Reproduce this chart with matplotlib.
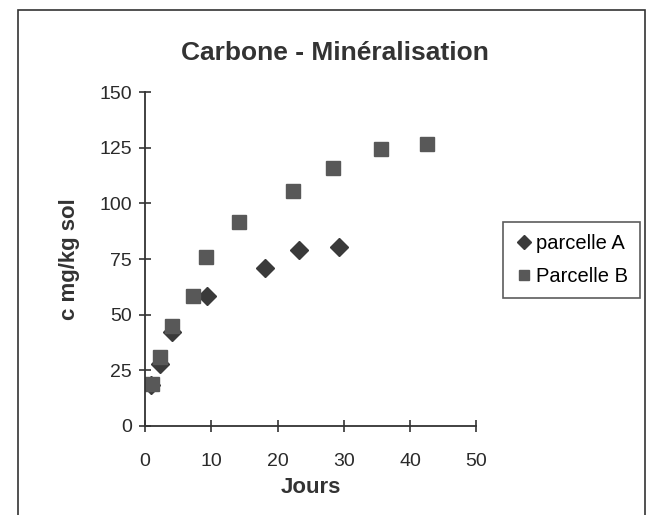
import matplotlib.pyplot as plt
from matplotlib.patches import Rectangle

plt.rcParams['font.family'] = ['Liberation Sans', 'DejaVu Sans']

# Parcelle A (diamonds)
jours_a = [0.9, 2.3, 4.0, 9.4, 18.1, 23.3, 29.3]
carbone_a = [18.5, 28, 42, 58.5, 71, 79, 80.5]

# Parcelle B (squares)
jours_b = [1.0, 2.3, 4.0, 7.3, 9.2, 14.2, 22.4, 28.4, 35.6, 42.5]
carbone_b = [19, 31, 45, 58.5, 76, 91.5, 105.5, 116, 124.5, 126.5]

fig = plt.figure(figsize=(6.48, 5.15), dpi=100)
ax = fig.add_axes([0.224, 0.173, 0.511, 0.648])

ax.plot(jours_a, carbone_a, linestyle='none', marker='D', markersize=9.5,
        color='#3a3a3a', label='parcelle A')
ax.plot(jours_b, carbone_b, linestyle='none', marker='s', markersize=9.5,
        color='#585858', label='Parcelle B')

ax.set_xlim(0, 50)
ax.set_ylim(0, 150)
ax.set_xticks(range(0, 51, 10))
ax.set_yticks(range(0, 151, 25))
for side in ['top', 'right']:
    ax.spines[side].set_visible(False)
for side in ['left', 'bottom']:
    ax.spines[side].set_linewidth(1.3)
    ax.spines[side].set_color('#333333')
ax.tick_params(direction='inout', length=9, width=1.2, labelsize=14,
               colors='#333333', labelcolor='#2a2a2a')
ax.tick_params(axis='x', pad=15)
ax.tick_params(axis='y', pad=5)

ax.set_xlabel('Jours', fontsize=16, fontweight='bold', color='#333333', labelpad=5)
ax.set_ylabel('c mg/kg sol', fontsize=16, fontweight='bold', color='#333333', labelpad=14)
fig.text(0.517, 0.897, 'Carbone - Minéralisation', ha='center', va='center',
         fontsize=19, fontweight='bold', color='#333333')

leg = fig.legend(loc='upper left', bbox_to_anchor=(503 / 648, 1 - 222 / 515),
                 fontsize=14.5, frameon=True, fancybox=False, edgecolor='#333333',
                 handletextpad=0.15, handlelength=0.9, borderpad=0.6,
                 labelspacing=0.7, markerscale=0.75, borderaxespad=0)
leg.get_frame().set_linewidth(1.2)

# outer chart border
fig.patches.append(Rectangle((0.028, -0.02), 0.968, 1.0, transform=fig.transFigure,
                             fill=False, edgecolor='#333333', linewidth=1.2))

fig.savefig('out.png', dpi=100)
